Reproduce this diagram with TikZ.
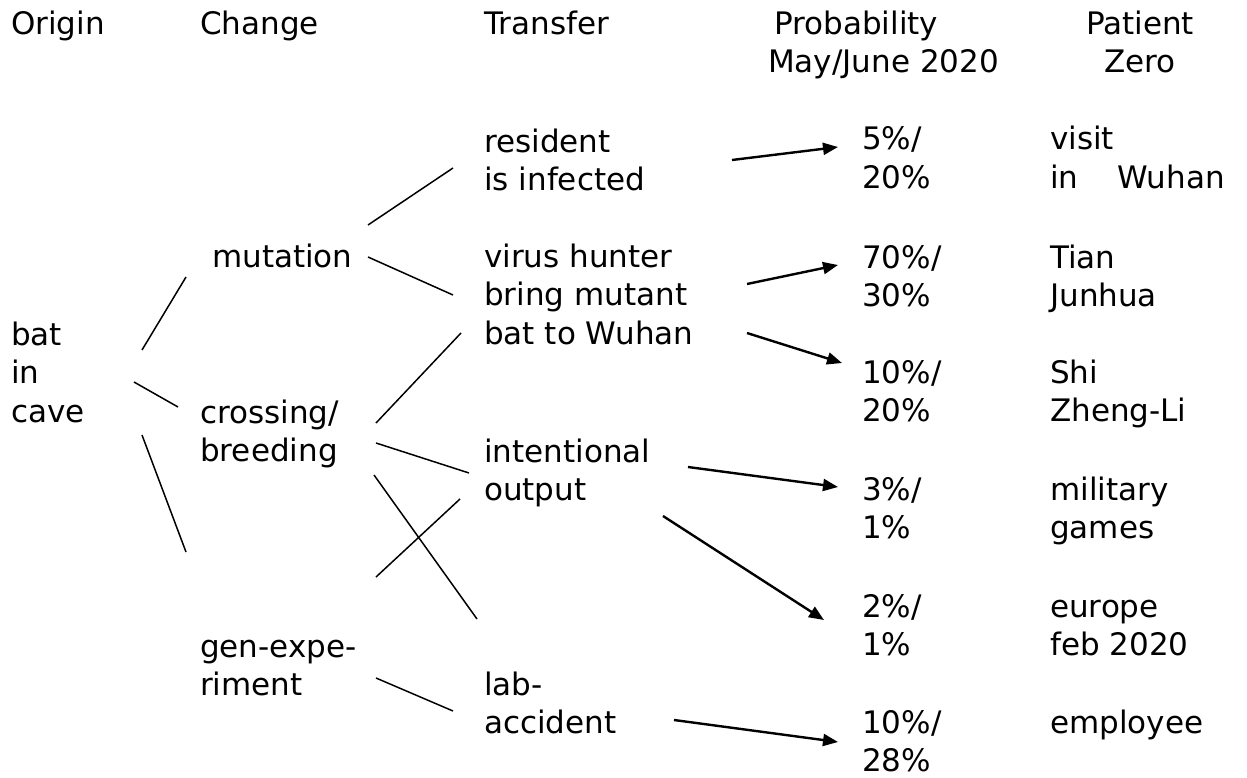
\documentclass[tikz,border=0pt]{standalone}
\usepackage{fontspec}
\setmainfont{DejaVu Sans}
\usetikzlibrary{arrows.meta}

\begin{document}
\begin{tikzpicture}[
    x=1pt, y=-1pt,
    % column heads and entries (placed at the baseline of their last line)
    label/.style={
        anchor=base west,
        inner sep=0pt,
        align=left,
        font=\fontsize{31}{38.5}\selectfont
    },
    % plain branch lines
    branch/.style={
        line width=1.5pt,
        black
    },
    arrow/.style={
        -{Triangle[length=15pt, width=12pt]},
        line width=2.4pt,
        black
    }
]
\useasboundingbox (0,0) rectangle (1247,778);

% === Column heads ===
\node[label] (hOrigin) at (11, 35) {Origin};
\node[label] (hChange) at (200, 35) {Change};
\node[label] (hTransfer) at (484, 35) {Transfer};
\node[label] (hProb) at (768, 73) {\hspace*{6pt}Probability\\May/June 2020};
\node[label, anchor=base, align=center] (hPatient) at (1140, 73) {Patient\\Zero};

% === Origin ===
\node[label] (bat) at (11, 422) {bat\\in\\cave};

% === Change ===
\node[label] (mut) at (212, 267) {mutation};
\node[label] (cross) at (200, 461.5) {crossing/\\breeding};
\node[label] (gen) at (200, 695.5) {gen-expe-\\riment};

% === Transfer ===
\node[label] (res) at (484, 190.5) {resident\\is infected};
\node[label] (hunt) at (484, 344) {virus hunter\\bring mutant\\bat to Wuhan};
\node[label] (intent) at (484, 500.5) {intentional\\output};
\node[label] (lab) at (484, 733.5) {lab-\\accident};

% === Probability ===
\node[label] (p1) at (862, 188.5) {5\%/\\20\%};
\node[label] (p2) at (862, 306.5) {70\%/\\30\%};
\node[label] (p3) at (862, 421.5) {10\%/\\20\%};
\node[label] (p4) at (862, 538.5) {3\%/\\1\%};
\node[label] (p5) at (862, 655.5) {2\%/\\1\%};
\node[label] (p6) at (862, 771.5) {10\%/\\28\%};

% === Patient Zero ===
\node[label] (z1) at (1050, 188.5) {visit\\in\hspace{1.25em}Wuhan};
\node[label] (z2) at (1050, 306.5) {Tian\\Junhua};
\node[label] (z3) at (1050, 421.5) {Shi\\Zheng-Li};
\node[label] (z4) at (1050, 538.5) {military\\games};
\node[label] (z5) at (1050, 655.5) {europe\\feb 2020};
\node[label] (z6) at (1050, 733) {employee};

% === Branches ===
\draw[branch] ([shift={(131,-72)}]bat.base west) -- ([shift={(-26,10)}]mut.base west);
\draw[branch] ([shift={(123,-40)}]bat.base west) -- ([shift={(-22,-54.5)}]cross.base west);
\draw[branch] ([shift={(131,13)}]bat.base west) -- ([shift={(-14,-143.5)}]gen.base west);
\draw[branch] ([shift={(156,-42)}]mut.base west) -- ([shift={(-31,-22.5)}]res.base west);
\draw[branch] ([shift={(156,-10)}]mut.base west) -- ([shift={(-31,-49)}]hunt.base west);
\draw[branch] ([shift={(176,-38.5)}]cross.base west) -- ([shift={(-23,-11)}]hunt.base west);
\draw[branch] ([shift={(176,-18.5)}]cross.base west) -- ([shift={(-15,-27.5)}]intent.base west);
\draw[branch] ([shift={(174,13.5)}]cross.base west) -- ([shift={(-7,-114.5)}]lab.base west);
\draw[branch] ([shift={(176,-118.5)}]gen.base west) -- ([shift={(-24,-1.5)}]intent.base west);
\draw[branch] ([shift={(176,-17.5)}]gen.base west) -- ([shift={(-31,-22.5)}]lab.base west);

% === Arrows to probabilities ===
\draw[arrow] ([shift={(248,-30.5)}]res.base west) -- ([shift={(-24,-41.5)}]p1.base west);
\draw[arrow] ([shift={(263,-60)}]hunt.base west) -- ([shift={(-24,-41.5)}]p2.base west);
\draw[arrow] ([shift={(263,-11)}]hunt.base west) -- ([shift={(-20,-58.5)}]p3.base west);
\draw[arrow] ([shift={(204,-33.5)}]intent.base west) -- ([shift={(-24,-51.5)}]p4.base west);
\draw[arrow] ([shift={(179,15.5)}]intent.base west) -- ([shift={(-38,-35.5)}]p5.base west);
\draw[arrow] ([shift={(190,-13.5)}]lab.base west) -- ([shift={(-24,-29.5)}]p6.base west);

\end{tikzpicture}
\end{document}
